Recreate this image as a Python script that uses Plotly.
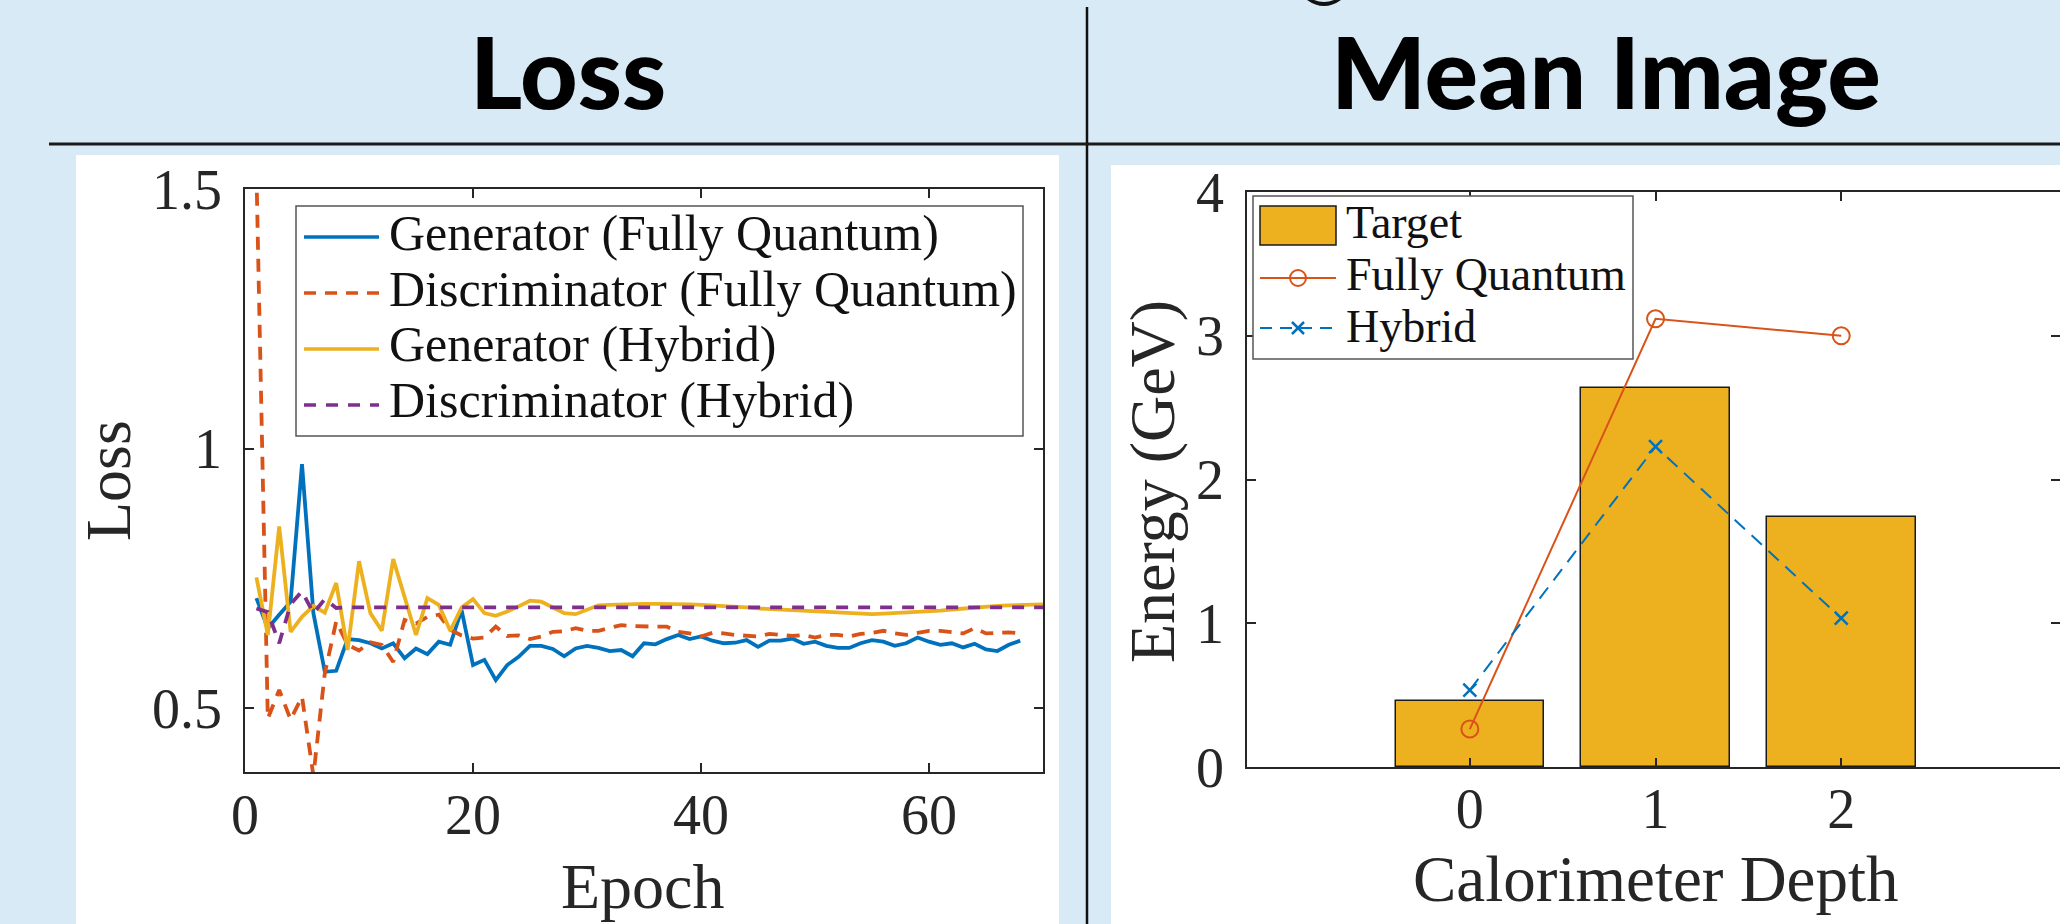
import plotly.graph_objects as go

# ---------------- data ----------------
epochs_fq = list(range(1, 69))
epochs_hyb = list(range(1, 71))

gen_fq = [0.712, 0.654, 0.680, 0.705, 0.970, 0.683, 0.570, 0.572, 0.633, 0.631,
          0.625, 0.615, 0.625, 0.596, 0.615, 0.604, 0.628, 0.622, 0.689, 0.583,
          0.593, 0.554, 0.583, 0.599, 0.620, 0.620, 0.614, 0.600, 0.615, 0.620,
          0.616, 0.610, 0.612, 0.600, 0.625, 0.623, 0.633, 0.641, 0.633, 0.638,
          0.630, 0.625, 0.626, 0.631, 0.618, 0.630, 0.630, 0.634, 0.624, 0.628,
          0.620, 0.616, 0.616, 0.625, 0.631, 0.628, 0.620, 0.625, 0.636, 0.628,
          0.622, 0.625, 0.617, 0.624, 0.613, 0.610, 0.622, 0.630]

disc_fq = [1.535, 0.480, 0.535, 0.478, 0.522, 0.370, 0.567, 0.667, 0.622, 0.611,
           0.627, 0.622, 0.589, 0.670, 0.663, 0.676, 0.680, 0.651, 0.640, 0.634,
           0.636, 0.657, 0.639, 0.640, 0.633, 0.638, 0.647, 0.648, 0.654, 0.649,
           0.649, 0.654, 0.660, 0.658, 0.657, 0.657, 0.657, 0.647, 0.644, 0.638,
           0.645, 0.644, 0.641, 0.639, 0.638, 0.643, 0.641, 0.639, 0.641, 0.636,
           0.641, 0.641, 0.638, 0.643, 0.645, 0.649, 0.644, 0.641, 0.645, 0.649,
           0.649, 0.647, 0.644, 0.654, 0.644, 0.645, 0.646, 0.644]

gen_hyb = [0.752, 0.641, 0.850, 0.647, 0.676, 0.697, 0.684, 0.741, 0.612, 0.783,
           0.683, 0.649, 0.787, 0.714, 0.641, 0.712, 0.699, 0.649, 0.694, 0.710,
           0.683, 0.678, 0.686, 0.696, 0.707, 0.705, 0.694, 0.683, 0.681, 0.689,
           0.698, 0.699, 0.700, 0.701, 0.701, 0.701, 0.701, 0.701, 0.700, 0.699,
           0.698, 0.697, 0.696, 0.694, 0.692, 0.691, 0.690, 0.689, 0.688, 0.686,
           0.685, 0.684, 0.683, 0.682, 0.681, 0.682, 0.683, 0.684, 0.685, 0.687,
           0.688, 0.690, 0.692, 0.694, 0.696, 0.697, 0.698, 0.699, 0.700, 0.700]

disc_hyb = [0.692, 0.685, 0.625, 0.700, 0.725, 0.683, 0.710, 0.693, 0.694, 0.694,
            0.694, 0.695, 0.694, 0.694, 0.694, 0.695, 0.694, 0.694, 0.694, 0.694,
            0.694, 0.694, 0.694, 0.694, 0.694, 0.694, 0.694, 0.694, 0.694, 0.694,
            0.694, 0.694, 0.694, 0.694, 0.694, 0.694, 0.694, 0.694, 0.694, 0.694,
            0.694, 0.694, 0.694, 0.694, 0.694, 0.694, 0.694, 0.694, 0.694, 0.694,
            0.694, 0.694, 0.694, 0.694, 0.694, 0.694, 0.694, 0.694, 0.694, 0.694,
            0.694, 0.694, 0.694, 0.694, 0.694, 0.694, 0.694, 0.694, 0.694, 0.694]

depth = [0, 1, 2]
target = [0.458, 2.639, 1.736]
fully_quantum = [0.264, 3.118, 3.000]
hybrid = [0.535, 2.229, 1.035]

loss_ticks = [0.5, 1, 1.5]
loss_ticktext = ["0.5", "1", "1.5"]
epoch_ticks = [0, 20, 40, 60]
energy_ticks = [0, 1, 2, 3, 4]

legend_loss = ["Generator (Fully Quantum)", "Discriminator (Fully Quantum)",
               "Generator (Hybrid)", "Discriminator (Hybrid)"]
legend_mean = ["Target", "Fully Quantum", "Hybrid"]

# ---------------- style ----------------
W, H = 2060, 924
BLUE, ORANGE, YELLOW, PURPLE = "#0072BD", "#D95319", "#EDB120", "#7E2F8E"
AX = "#262626"
SERIF = "Liberation Serif"
TITLEF = "Lato"


def px(x):
    return x / W


def py(y):
    return 1 - y / H


fig = go.Figure()

fig.add_trace(go.Scatter(x=epochs_fq, y=gen_fq, mode="lines",
                         line=dict(color=BLUE, width=3.8), xaxis="x", yaxis="y"))
fig.add_trace(go.Scatter(x=epochs_fq, y=disc_fq, mode="lines",
                         line=dict(color=ORANGE, width=3.8, dash="13px,9px"), xaxis="x", yaxis="y"))
fig.add_trace(go.Scatter(x=epochs_hyb, y=gen_hyb, mode="lines",
                         line=dict(color=YELLOW, width=3.8), xaxis="x", yaxis="y"))
fig.add_trace(go.Scatter(x=epochs_hyb, y=disc_hyb, mode="lines",
                         line=dict(color=PURPLE, width=3.8, dash="12px,10px"), xaxis="x", yaxis="y"))

fig.add_trace(go.Bar(x=depth, y=target, width=0.8,
                     marker=dict(color=YELLOW, line=dict(color="#1a1a1a", width=1.5)),
                     xaxis="x2", yaxis="y2"))
fig.add_trace(go.Scatter(x=depth, y=fully_quantum, mode="lines+markers",
                         line=dict(color=ORANGE, width=2),
                         marker=dict(symbol="circle-open", size=17, color=ORANGE,
                                     line=dict(width=2, color=ORANGE)),
                         xaxis="x2", yaxis="y2"))
fig.add_trace(go.Scatter(x=depth, y=hybrid, mode="lines+markers",
                         line=dict(color=BLUE, width=2, dash="14px,9px"),
                         marker=dict(symbol="x-thin", size=13, color=BLUE,
                                     line=dict(width=2.5, color=BLUE)),
                         xaxis="x2", yaxis="y2"))

axis_common = dict(showline=True, linecolor=AX, linewidth=1.5, mirror="ticks",
                   ticks="inside", ticklen=9, tickwidth=1.5, tickcolor=AX,
                   showgrid=False, zeroline=False, automargin=False,
                   tickfont=dict(family=SERIF, size=56, color=AX))

fig.update_layout(
    template="none",
    width=W, height=H,
    autosize=False,
    margin=dict(l=0, r=0, t=0, b=0, pad=0),
    paper_bgcolor="#D9EAF7",
    plot_bgcolor="rgba(0,0,0,0)",
    showlegend=False,
    bargap=0,
    xaxis=dict(domain=[px(245), px(1043)], range=[0, 70], tickvals=epoch_ticks,
               anchor="y", ticklabelstandoff=-7, **axis_common),
    yaxis=dict(domain=[py(772), py(189)], range=[0.377, 1.5], tickvals=loss_ticks,
               ticktext=loss_ticktext, anchor="x", ticklabelstandoff=10, **axis_common),
    xaxis2=dict(domain=[px(1247), 1.0], range=[-1.2, 3.178], tickvals=depth,
                anchor="y2", ticklabelstandoff=-8, **axis_common),
    yaxis2=dict(domain=[py(767), py(192)], range=[0, 4], tickvals=energy_ticks,
                anchor="x2", ticklabelstandoff=10, **axis_common),
)

shapes = []
# white panels
shapes.append(dict(type="rect", xref="paper", yref="paper", layer="below",
                   x0=px(76), x1=px(1059), y0=0, y1=py(155),
                   fillcolor="white", line=dict(width=0)))
shapes.append(dict(type="rect", xref="paper", yref="paper", layer="below",
                   x0=px(1111), x1=1, y0=0, y1=py(165),
                   fillcolor="white", line=dict(width=0)))
# divider lines
shapes.append(dict(type="line", xref="paper", yref="paper",
                   x0=px(1087), x1=px(1087), y0=py(7), y1=0,
                   line=dict(color="#111111", width=2.5)))
shapes.append(dict(type="line", xref="paper", yref="paper",
                   x0=px(49), x1=1, y0=py(144), y1=py(144),
                   line=dict(color="#1a1a1a", width=3)))
# descender fragment of text cut off above
frag = "M {a},{b} Q {c},{d} {e},{b} L {f},{b} Q {c},{g} {h},{b} Z".format(
    a=px(1307), b=py(0), c=px(1324), d=py(12), e=px(1341), f=px(1334), g=py(4), h=px(1314))
shapes.append(dict(type="path", xref="paper", yref="paper", path=frag,
                   fillcolor="#111111", line=dict(width=0)))

# ---- Loss legend ----
shapes.append(dict(type="rect", xref="paper", yref="paper",
                   x0=px(296), x1=px(1023), y0=py(436), y1=py(206),
                   fillcolor="white", line=dict(color="#555555", width=1.5)))
loss_colors = [BLUE, ORANGE, YELLOW, PURPLE]
loss_dash = ["solid", "12px,9px", "solid", "12px,10px"]
line_y = [237, 293, 349, 405]
text_y = [233, 289, 344, 400]
for c, d, ly in zip(loss_colors, loss_dash, line_y):
    shapes.append(dict(type="line", xref="paper", yref="paper",
                       x0=px(304), x1=px(379), y0=py(ly), y1=py(ly),
                       line=dict(color=c, width=3.5, dash=d)))

# ---- Mean image legend ----
shapes.append(dict(type="rect", xref="paper", yref="paper",
                   x0=px(1253), x1=px(1633), y0=py(359), y1=py(196),
                   fillcolor="white", line=dict(color="#555555", width=1.5)))
shapes.append(dict(type="rect", xref="paper", yref="paper",
                   x0=px(1260), x1=px(1336), y0=py(245), y1=py(206),
                   fillcolor=YELLOW, line=dict(color="#1a1a1a", width=1.5)))
shapes.append(dict(type="line", xref="paper", yref="paper",
                   x0=px(1260), x1=px(1336), y0=py(278), y1=py(278),
                   line=dict(color=ORANGE, width=2)))
shapes.append(dict(type="circle", xref="paper", yref="paper",
                   x0=px(1290), x1=px(1306), y0=py(286), y1=py(270),
                   fillcolor="rgba(0,0,0,0)", line=dict(color=ORANGE, width=2)))
shapes.append(dict(type="line", xref="paper", yref="paper",
                   x0=px(1260), x1=px(1336), y0=py(328), y1=py(328),
                   line=dict(color=BLUE, width=2, dash="12px,8px")))
for dx1, dy1, dx2, dy2 in [(-6, -6, 6, 6), (-6, 6, 6, -6)]:
    shapes.append(dict(type="line", xref="paper", yref="paper",
                       x0=px(1298 + dx1), x1=px(1298 + dx2),
                       y0=py(328 + dy1), y1=py(328 + dy2),
                       line=dict(color=BLUE, width=2.5)))

fig.update_layout(shapes=shapes)

ann = []
TXT = "#111111"
# panel titles
ann.append(dict(text="Loss", x=px(568), y=py(70), xref="paper", yref="paper",
                showarrow=False, xanchor="center", yanchor="middle",
                font=dict(family=TITLEF, size=100, color="black", weight=900)))
ann.append(dict(text="Mean Image", x=px(1606), y=py(70), xref="paper", yref="paper",
                showarrow=False, xanchor="center", yanchor="middle",
                font=dict(family=TITLEF, size=100, color="black", weight=900)))
# axis titles
ann.append(dict(text="Loss", x=px(108), y=py(481), xref="paper", yref="paper",
                showarrow=False, textangle=-90, xanchor="center", yanchor="middle",
                font=dict(family=SERIF, size=64, color=AX)))
ann.append(dict(text="Epoch", x=px(643), y=py(886), xref="paper", yref="paper",
                showarrow=False, xanchor="center", yanchor="middle",
                font=dict(family=SERIF, size=64, color=AX)))
ann.append(dict(text="Energy (GeV)", x=px(1152), y=py(482), xref="paper", yref="paper",
                showarrow=False, textangle=-90, xanchor="center", yanchor="middle",
                font=dict(family=SERIF, size=64, color=AX)))
ann.append(dict(text="Calorimeter Depth", x=px(1656), y=py(879), xref="paper", yref="paper",
                showarrow=False, xanchor="center", yanchor="middle",
                font=dict(family=SERIF, size=65, color=AX)))
# legend texts
for t, ty in zip(legend_loss, text_y):
    ann.append(dict(text=t, x=px(387), y=py(ty), xref="paper", yref="paper",
                    showarrow=False, xanchor="left", yanchor="middle",
                    font=dict(family=SERIF, size=50, color=TXT)))
for t, ty in zip(legend_mean, [222, 274, 326]):
    ann.append(dict(text=t, x=px(1344), y=py(ty), xref="paper", yref="paper",
                    showarrow=False, xanchor="left", yanchor="middle",
                    font=dict(family=SERIF, size=46, color=TXT)))

fig.update_layout(annotations=ann)

fig.write_html("out.html", config={"displayModeBar": False})
